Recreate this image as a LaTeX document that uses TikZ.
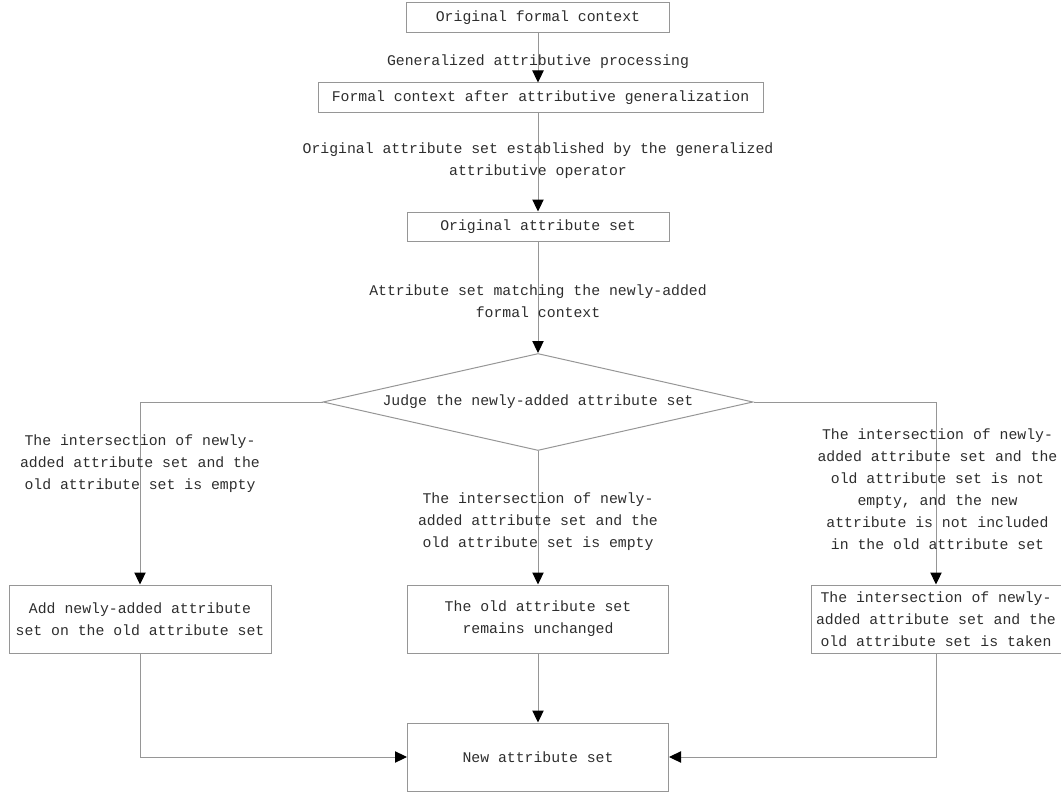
\documentclass[tikz,border=0pt]{standalone}
\usepackage{fontspec}
\setmainfont{Liberation Mono}
\usetikzlibrary{shapes.geometric,arrows.meta}
\definecolor{linegray}{RGB}{150,150,150}
\definecolor{textgray}{RGB}{45,45,45}
\tikzset{every picture/.style={line width=0.75pt}}
\tikzset{
  box/.style={draw=linegray,rectangle,inner sep=0.75pt,align=center,text=textgray,font=\fontsize{11.1}{16.5}\selectfont},
  judge/.style={draw=linegray,diamond,aspect=4.4,inner sep=0pt,minimum width=322.5pt,minimum height=72.75pt,text=textgray,font=\fontsize{11.1}{16.5}\selectfont},
  lbl/.style={inner sep=0.75pt,align=center,text=textgray,font=\fontsize{11.1}{16.5}\selectfont},
  flow/.style={draw=linegray,-{Triangle[black,length=9pt,width=8.5pt]}},
  link/.style={draw=linegray}
}
\begin{document}
\begin{tikzpicture}[x=0.75pt,y=0.75pt,yscale=-1,xscale=1]
\useasboundingbox (0,0) rectangle (1061,792);

%Shape: Rectangle
\draw (538,18) node [box,minimum width=197.25pt,minimum height=22.5pt] (orig) {Original formal context};
%Shape: Rectangle
\draw (540.5,98) node [box,minimum width=333.75pt,minimum height=22.5pt] (gen) {Formal context after attributive generalization};
%Shape: Rectangle
\draw (538,226.5) node [box,minimum width=196.5pt,minimum height=21.75pt] (oset) {Original attribute set};
%Shape: Diamond
\draw (538,402) node [judge] (dia) {Judge the newly-added attribute set};
%Shape: Rectangle
\draw (140,619) node [box,minimum width=196.5pt,minimum height=51pt] (lbox) {Add newly-added attribute\\set on the old attribute set};
%Shape: Rectangle
\draw (538,619) node [box,minimum width=195.75pt,minimum height=51pt] (mbox) {The old attribute set\\remains unchanged};
%Shape: Rectangle
\draw (936,619) node [box,minimum width=187.5pt,minimum height=51pt] (rbox) {The intersection of newly-\\added attribute set and the\\old attribute set is taken};
%Shape: Rectangle
\draw (538,757) node [box,minimum width=195.75pt,minimum height=51pt] (nset) {New attribute set};

%Straight Lines
\draw [flow] (orig) -- (orig |- gen.north);
\draw [flow] (oset |- gen.south) -- (oset);
\draw [flow] (oset) -- (dia.north);
\draw [flow] (dia.west) -| (lbox.north);
\draw [flow] (dia.south) -- (mbox.north);
\draw [flow] (dia.east) -| (rbox.north);
\draw [flow] (lbox) |- (nset.west);
\draw [flow] (mbox) -- (nset);
\draw [flow] (rbox) |- (nset.east);

% Text Node
\draw (538,62) node [lbl] (t1) {Generalized attributive processing};
% Text Node
\draw (538,161) node [lbl] (t2) {Original attribute set established by the generalized\\attributive operator};
% Text Node
\draw (538,301) node [lbl] (t3) {Attribute set matching the newly-added\\formal context};
% Text Node
\draw (140,464) node [lbl] (t4) {The intersection of newly-\\added attribute set and the\\old attribute set is empty};
% Text Node
\draw (538,522) node [lbl] (t5) {The intersection of newly-\\added attribute set and the\\old attribute set is empty};
% Text Node
\draw (937.5,489) node [lbl] (t6) {The intersection of newly-\\added attribute set and the\\old attribute set is not\\empty, and the new\\attribute is not included\\in the old attribute set};

\end{tikzpicture}
\end{document}
